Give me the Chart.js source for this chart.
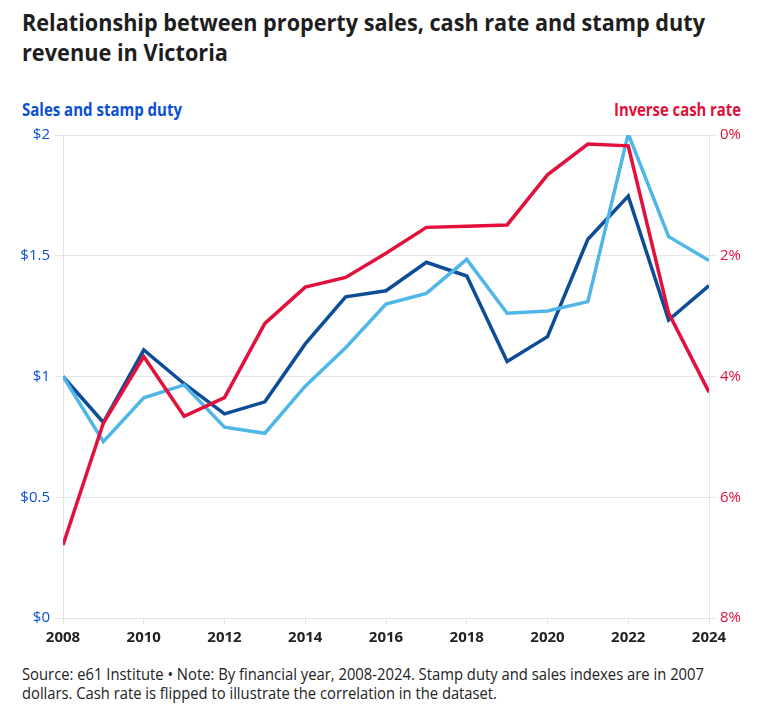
<!DOCTYPE html>
<html>
<head>
<meta charset="utf-8">
<script src="https://cdn.jsdelivr.net/npm/chart.js@4"></script>
<style>
    body { margin: 0; background: #fff; width: 758px; height: 724px; overflow: hidden; position: relative; font-family: "Open Sans", sans-serif; }
    .line { position: absolute; white-space: nowrap; transform-origin: 0 0; }
    .title { left: 22px; font-size: 24px; font-weight: bold; line-height: 30px; color: #1e1e1e; }
    .axis-title { font-size: 17px; font-weight: bold; line-height: 22px; }
    .foot { left: 22px; font-size: 15.5px; line-height: 20px; color: #222; }
    #chartBox { position: absolute; left: 0; top: 120px; width: 758px; height: 528px; }
</style>
</head>
<body>
<div class="line title" style="top: 7px" data-w="683">Relationship between property sales, cash rate and stamp duty</div>
<div class="line title" style="top: 37px" data-w="206">revenue in Victoria</div>
<div class="line axis-title" style="left: 22px; top: 99px; color: #0a4fd4" data-w="160">Sales and stamp duty</div>
<div class="line axis-title" style="left: 614px; top: 99px; color: #e0103a" data-w="127">Inverse cash rate</div>
<div id="chartBox"><canvas id="chart"></canvas></div>
<div class="line foot" style="top: 664px" data-w="682">Source: e61 Institute • Note: By financial year, 2008-2024. Stamp duty and sales indexes are in 2007</div>
<div class="line foot" style="top: 683px" data-w="475">dollars. Cash rate is flipped to illustrate the correlation in the dataset.</div>
<script>
    const years = [2008, 2009, 2010, 2011, 2012, 2013, 2014, 2015, 2016, 2017, 2018, 2019, 2020, 2021, 2022, 2023, 2024];
    const salesIndex = [1.0, 0.81, 1.11, 0.97, 0.845, 0.895, 1.135, 1.33, 1.355, 1.473, 1.416, 1.062, 1.165, 1.568, 1.747, 1.234, 1.376];
    const stampDuty = [1.0, 0.73, 0.912, 0.965, 0.79, 0.765, 0.96, 1.119, 1.30, 1.344, 1.485, 1.262, 1.271, 1.31, 2.005, 1.579, 1.48];
    const cashRate = [6.79, 4.77, 3.67, 4.66, 4.35, 3.12, 2.52, 2.36, 1.96, 1.53, 1.51, 1.49, 0.66, 0.15, 0.18, 2.95, 4.26];
    const xTicks = [2008, 2010, 2012, 2014, 2016, 2018, 2020, 2022, 2024];
    const leftTicks = [0, 0.5, 1, 1.5, 2];
    const rightTicks = [0, 2, 4, 6, 8];

    // squeeze text lines to the widths measured on the reference
    document.querySelectorAll(".line[data-w]").forEach(el => {
        const w = el.getBoundingClientRect().width;
        el.style.transform = "scaleX(" + (Number(el.dataset.w) / w) + ")";
    });

    const font = "'Open Sans', sans-serif";
    const toPoints = (vals) => vals.map((v, i) => ({ x: years[i], y: v }));

    new Chart(document.getElementById("chart"), {
        type: "line",
        data: {
            datasets: [
                {
                    label: "Inverse cash rate",
                    data: toPoints(cashRate),
                    yAxisID: "yRight",
                    borderColor: "#e2103b",
                    borderWidth: 3.5,
                    pointRadius: 0,
                    tension: 0,
                    order: 0
                },
                {
                    label: "Stamp duty",
                    data: toPoints(stampDuty),
                    yAxisID: "y",
                    borderColor: "#4fb6e8",
                    borderWidth: 3.5,
                    pointRadius: 0,
                    tension: 0,
                    order: 1
                },
                {
                    label: "Sales",
                    data: toPoints(salesIndex),
                    yAxisID: "y",
                    borderColor: "#0d4c96",
                    borderWidth: 3.5,
                    pointRadius: 0,
                    tension: 0,
                    order: 2
                }
            ]
        },
        options: {
            responsive: true,
            maintainAspectRatio: false,
            animation: false,
            layout: { padding: { left: 0, right: 0, top: 15, bottom: 0 } },
            plugins: { legend: { display: false }, tooltip: { enabled: false } },
            scales: {
                x: {
                    type: "linear",
                    min: 2008,
                    max: 2024,
                    afterBuildTicks: (scale) => { scale.ticks = xTicks.map(v => ({ value: v })); },
                    afterFit: (scale) => { scale.height = 30; },
                    ticks: { callback: (v) => String(v), color: "#222", font: { family: font, size: 15, weight: "bold" }, padding: 5, maxRotation: 0 },
                    grid: { drawOnChartArea: false, tickLength: 6, color: "#e2e2e2" },
                    border: { color: "#e2e2e2" }
                },
                y: {
                    position: "left",
                    min: 0,
                    max: 2,
                    afterBuildTicks: (scale) => { scale.ticks = leftTicks.map(v => ({ value: v })); },
                    afterFit: (scale) => { scale.width = 63; },
                    ticks: { callback: (v) => "$" + v, color: "#0a4fd4", font: { family: font, size: 15 }, padding: 5 },
                    grid: { color: "#e6e6e6", tickLength: 8 },
                    border: { color: "#e2e2e2" }
                },
                yRight: {
                    position: "right",
                    reverse: true,
                    min: 0,
                    max: 8,
                    afterBuildTicks: (scale) => { scale.ticks = rightTicks.map(v => ({ value: v })); },
                    afterFit: (scale) => { scale.width = 49; },
                    ticks: { callback: (v) => v + "%", color: "#e0103a", font: { family: font, size: 15 }, padding: 3 },
                    grid: { drawOnChartArea: false, tickLength: 8, color: "#e6e6e6" },
                    border: { color: "#e2e2e2" }
                }
            }
        }
    });
</script>
</body>
</html>
